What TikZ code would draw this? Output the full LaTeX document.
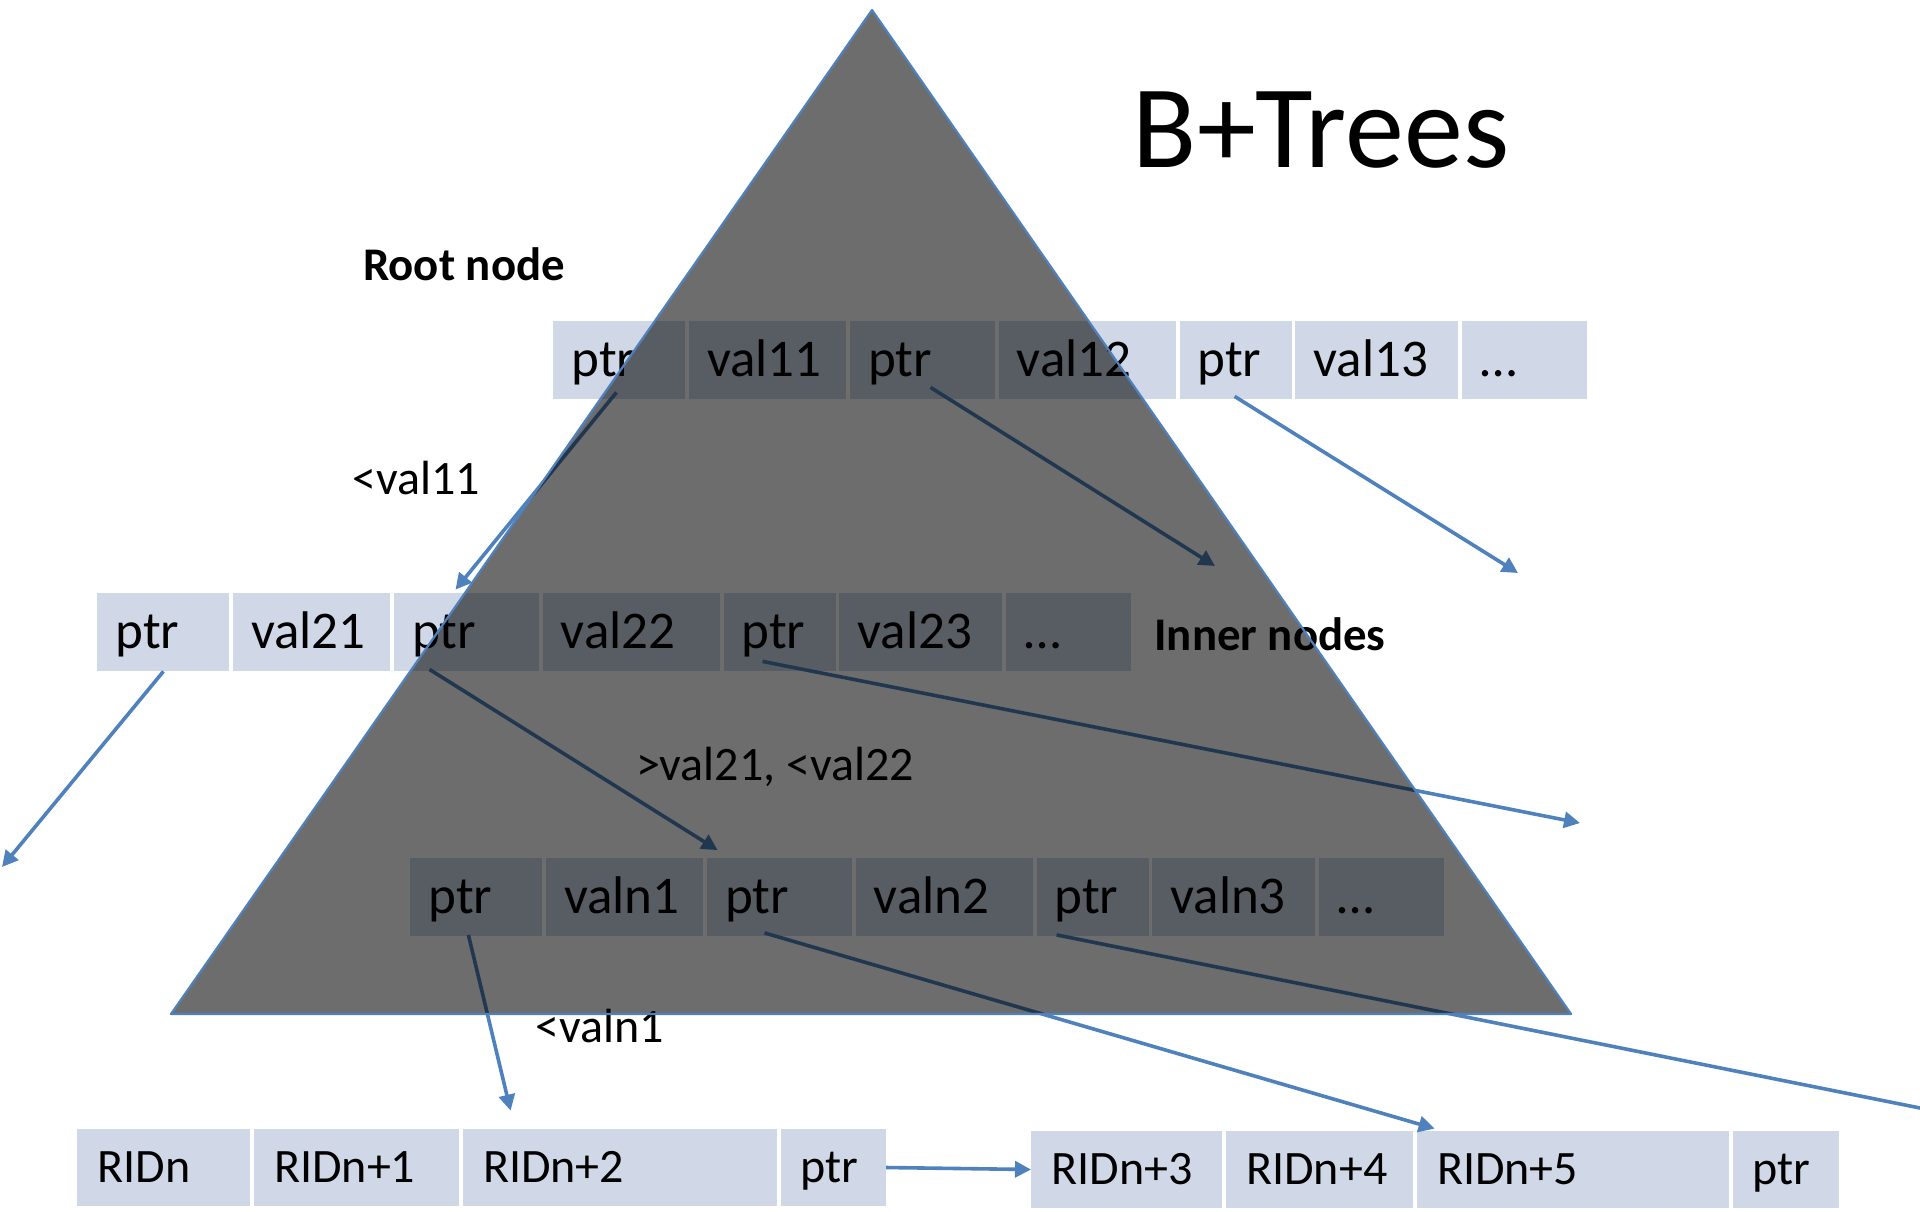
\documentclass[tikz,border=0pt]{standalone}
\usepackage{fontspec}
\setmainfont{Carlito}
\usetikzlibrary{positioning,calc,arrows.meta}
\definecolor{cellfill}{HTML}{D0D8E8}
\definecolor{linkblue}{HTML}{4F81BD}
\definecolor{treegray}{HTML}{6D6D6D}

\tikzset{
  cell/.style={fill=cellfill, minimum height=39pt, inner xsep=9pt, inner ysep=0pt,
    text height=19pt, text depth=2.2pt, font=\fontsize{26.5}{32}\selectfont},
  leafcell/.style={cell, minimum height=38.5pt, inner xsep=10pt,
    text height=17.5pt, text depth=2.2pt, font=\fontsize{24}{29}\selectfont},
  note/.style={font=\fontsize{24}{29}\selectfont},
  head/.style={font=\bfseries\fontsize{23.4}{28}\selectfont},
  link/.style={draw=linkblue, line width=1.8pt, -{Triangle[length=8pt,width=8pt]}},
}

\begin{document}
\begin{tikzpicture}[x=0.5pt,y=-0.5pt]
  \useasboundingbox (0,0) rectangle (1920,1211);

  % root node
  \coordinate (r0) at (550,360);
  \foreach \lbl/\cw [count=\k, remember=\k as \prev (initially 0)] in
    {ptr/132,val11/157,ptr/145,val12/177,ptr/112,val13/163,…/125}
    {\pgfmathsetmacro\tw{\cw/2-18}
     \node[cell, text width=\tw pt, right=1.5pt of r\prev] (r\k) {\lbl};}

  % inner nodes
  \coordinate (i0) at (94,632);
  \foreach \lbl/\cw [count=\k, remember=\k as \prev (initially 0)] in
    {ptr/132,val21/157,ptr/145,val22/177,ptr/112,val23/163,…/125}
    {\pgfmathsetmacro\tw{\cw/2-18}
     \node[cell, text width=\tw pt, right=1.5pt of i\prev] (i\k) {\lbl};}

  \coordinate (n0) at (407,896.5);
  \foreach \lbl/\cw [count=\k, remember=\k as \prev (initially 0)] in
    {ptr/132,valn1/157,ptr/145,valn2/177,ptr/112,valn3/163,…/125}
    {\pgfmathsetmacro\tw{\cw/2-18}
     \node[cell, text width=\tw pt, right=1.5pt of n\prev] (n\k) {\lbl};}

  % leaves
  \coordinate (la0) at (74,1167.5);
  \foreach \lbl/\cw [count=\k, remember=\k as \prev (initially 0)] in
    {RIDn/173,RIDn+1/205,RIDn+2/314,ptr/105}
    {\pgfmathsetmacro\tw{\cw/2-20}
     \node[leafcell, text width=\tw pt, right=1.5pt of la\prev] (la\k) {\lbl};}

  \coordinate (lb0) at (1028,1169.5);
  \foreach \lbl/\cw [count=\k, remember=\k as \prev (initially 0)] in
    {RIDn+3/191,RIDn+4/187,RIDn+5/312,ptr/106}
    {\pgfmathsetmacro\tw{\cw/2-20}
     \node[leafcell, text width=\tw pt, right=1.5pt of lb\prev] (lb\k) {\lbl};}

  % texts
  \node[font=\fontsize{59}{70}\selectfont] (title) at (1321,130) {B+Trees};
  \node[head] (rootlbl) at (464,264) {Root node};
  \node[head] (innerlbl) at (1270,634) {Inner nodes};
  \node[note] (cond1) at (416,478) {<val11};
  \node[note] (cond2) at (775,767) {>val21, <val22};
  \node[note] (cond3) at (600,1026) {<valn1};

  % pointers
  \coordinate (e2) at (1215,566);
  \coordinate (e3) at (1518,573);
  \coordinate (e4) at (2,867);
  \coordinate (e6) at (1580,823);
  \coordinate (e9) at (1940,1112);
  \draw[link] ($(r1.south)+(-3,-7)$) -- ($(i3.north)+(-11,-3)$);
  \draw[link] ($(r3.south)+(8,-12)$) -- (e2);
  \draw[link] ($(r5.south)+(-1,-3)$) -- (e3);
  \draw[link] (i1.south) -- (e4);
  \draw[link] ($(i3.south)+(-37,-2)$) -- ($(n3.north west)+(11,-7)$);
  \draw[link] ($(i5.south)+(-17,-10)$) -- (e6);
  \draw[link] ($(n1.south)+(-8,-1)$) -- ($(la3.north west)+(48,-18)$);
  \draw[link] ($(n3.south)+(-15,-3)$) -- ($(lb3.north west)+(18,-2)$);
  \draw[link] ($(n5.south)+(-36,-1)$) -- (e9);
  \draw[link] (la4.east) -- (lb1.west);

  % the tree
  \fill[treegray, blend mode=multiply] (872,10) -- (1571,1014) -- (171,1014) -- cycle;
  \draw[linkblue, line width=1.1pt, line join=round] (872,10) -- (1571,1014) -- (171,1014) -- cycle;
\end{tikzpicture}
\end{document}
